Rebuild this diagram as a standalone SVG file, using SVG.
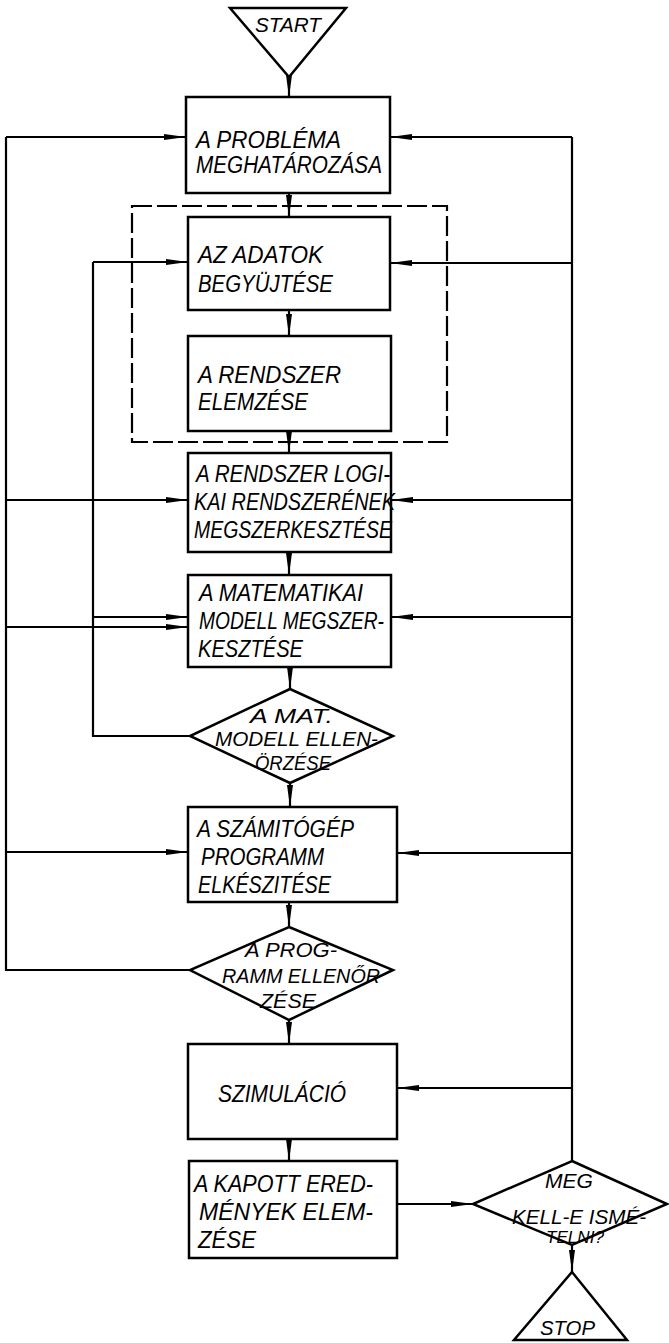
<svg xmlns="http://www.w3.org/2000/svg" width="669" height="1343" viewBox="0 0 669 1343">
<defs>
<marker id="arr" markerUnits="userSpaceOnUse" markerWidth="22" markerHeight="8" refX="22" refY="4" orient="auto">
<path d="M0,1 L22,4 L0,7 Z" fill="#000"/>
</marker>
<style>
.n{fill:#fff;stroke:#000;stroke-width:2.5}
.t{font-family:"Liberation Sans",Arial,sans-serif;font-style:italic;font-size:23px;fill:#000}
.s{font-size:21px}
.m{font-size:20px}
.c{fill:none;stroke:#000;stroke-width:2.2}
.a{fill:none;stroke:#000;stroke-width:2.2;marker-end:url(#arr)}
.d{fill:none;stroke:#000;stroke-width:2.2;stroke-dasharray:20 5}
</style>
</defs>
<rect width="669" height="1343" fill="#fff"/>

<g id="connectors">
<rect class="d" x="132" y="206" width="315" height="236"/>
<path class="a" d="M289,77 V97"/>
<path class="a" d="M289,193 V217"/>
<path class="a" d="M289,310 V336"/>
<path class="a" d="M289,431 V453"/>
<path class="a" d="M289,552 V575"/>
<path class="a" d="M290,667 V689"/>
<path class="a" d="M290,783 V807"/>
<path class="a" d="M289,902 V927"/>
<path class="a" d="M289,1020 V1044"/>
<path class="a" d="M289,1139 V1161"/>
<path class="a" d="M572,1245 V1272"/>
<path class="a" d="M397,1204 H473"/>
<path class="c" d="M190,970 H6 V137"/>
<path class="a" d="M6,137 H186"/>
<path class="a" d="M6,500 H188"/>
<path class="a" d="M6,627 H188"/>
<path class="a" d="M6,852 H188"/>
<path class="c" d="M190,736 H93 V262"/>
<path class="a" d="M93,262 H188"/>
<path class="a" d="M93,617 H188"/>
<path class="c" d="M572,1161 V137"/>
<path class="a" d="M572,137 H390"/>
<path class="a" d="M572,263 H390"/>
<path class="a" d="M572,500 H391"/>
<path class="a" d="M572,617 H391"/>
<path class="a" d="M572,853 H397"/>
<path class="a" d="M572,1088 H397"/>
</g>

<g id="start">
<path class="n" d="M230,8 L346,8 L289,77 Z"/>
<text class="t s" x="255" y="32" textLength="66" lengthAdjust="spacingAndGlyphs">START</text>
</g>

<g id="problema">
<rect class="n" x="186" y="97" width="204" height="96"/>
<text class="t" x="196" y="148" textLength="145" lengthAdjust="spacingAndGlyphs">A PROBLÉMA</text>
<text class="t" x="196" y="173" textLength="186" lengthAdjust="spacingAndGlyphs">MEGHATÁROZÁSA</text>
</g>

<g id="adatok">
<rect class="n" x="188" y="217" width="202" height="93"/>
<text class="t" x="198" y="263" textLength="125" lengthAdjust="spacingAndGlyphs">AZ ADATOK</text>
<text class="t" x="198" y="292" textLength="135" lengthAdjust="spacingAndGlyphs">BEGYÜJTÉSE</text>
</g>

<g id="elemzes">
<rect class="n" x="188" y="336" width="203" height="95"/>
<text class="t" x="198" y="383" textLength="143" lengthAdjust="spacingAndGlyphs">A RENDSZER</text>
<text class="t" x="198" y="410" textLength="110" lengthAdjust="spacingAndGlyphs">ELEMZÉSE</text>
</g>

<g id="logikai">
<rect class="n" x="188" y="453" width="203" height="99"/>
<text class="t" x="196" y="482" textLength="194" lengthAdjust="spacingAndGlyphs">A RENDSZER LOGI-</text>
<text class="t" x="194" y="510" textLength="201" lengthAdjust="spacingAndGlyphs">KAI RENDSZERÉNEK</text>
<text class="t" x="194" y="538" textLength="198" lengthAdjust="spacingAndGlyphs">MEGSZERKESZTÉSE</text>
</g>

<g id="matmodell">
<rect class="n" x="188" y="575" width="203" height="92"/>
<text class="t" x="199" y="601" textLength="164" lengthAdjust="spacingAndGlyphs">A MATEMATIKAI</text>
<text class="t" x="199" y="629" textLength="185" lengthAdjust="spacingAndGlyphs">MODELL MEGSZER-</text>
<text class="t" x="198" y="657" textLength="105" lengthAdjust="spacingAndGlyphs">KESZTÉSE</text>
</g>

<g id="matellenorzes">
<path class="n" d="M290,689 L393,736 L290,783 L190,736 Z"/>
<text class="t s" x="250" y="723" textLength="83" lengthAdjust="spacingAndGlyphs">A MAT.</text>
<text class="t s" x="215" y="746" textLength="163" lengthAdjust="spacingAndGlyphs">MODELL ELLEN-</text>
<text class="t m" x="255" y="770" textLength="76" lengthAdjust="spacingAndGlyphs">ÖRZÉSE</text>
</g>

<g id="program">
<rect class="n" x="188" y="807" width="209" height="95"/>
<text class="t" x="197" y="837" textLength="157" lengthAdjust="spacingAndGlyphs">A SZÁMITÓGÉP</text>
<text class="t" x="201" y="865" textLength="123" lengthAdjust="spacingAndGlyphs">PROGRAMM</text>
<text class="t" x="198" y="893" textLength="133" lengthAdjust="spacingAndGlyphs">ELKÉSZITÉSE</text>
</g>

<g id="progellenorzes">
<path class="n" d="M289,927 L393,970 L289,1020 L190,970 Z"/>
<text class="t s" x="245" y="957" textLength="92" lengthAdjust="spacingAndGlyphs">A PROG-</text>
<text class="t s" x="222" y="983" textLength="158" lengthAdjust="spacingAndGlyphs">RAMM ELLENŐR</text>
<text class="t s" x="260" y="1008" textLength="56" lengthAdjust="spacingAndGlyphs">ZÉSE</text>
</g>

<g id="szimulacio">
<rect class="n" x="188" y="1044" width="209" height="95"/>
<text class="t" x="218" y="1102" textLength="128" lengthAdjust="spacingAndGlyphs">SZIMULÁCIÓ</text>
</g>

<g id="eredmenyek">
<rect class="n" x="189" y="1161" width="208" height="97"/>
<text class="t" x="194" y="1192" textLength="179" lengthAdjust="spacingAndGlyphs">A KAPOTT ERED-</text>
<text class="t" x="199" y="1220" textLength="174" lengthAdjust="spacingAndGlyphs">MÉNYEK ELEM-</text>
<text class="t" x="198" y="1248" textLength="58" lengthAdjust="spacingAndGlyphs">ZÉSE</text>
</g>

<g id="ismetelni">
<path class="n" d="M572,1161 L667,1204 L572,1245 L473,1204 Z"/>
<text class="t s" x="545" y="1188" textLength="48" lengthAdjust="spacingAndGlyphs">MEG</text>
<text class="t s" x="512" y="1224" textLength="134" lengthAdjust="spacingAndGlyphs">KELL-E ISMÉ-</text>
<text class="t" style="font-size:17px" x="546" y="1243" textLength="58" lengthAdjust="spacingAndGlyphs">TELNI?</text>
</g>

<g id="stop">
<path class="n" d="M572,1272 L627,1340 L514,1340 Z"/>
<text class="t s" x="540" y="1335" textLength="55" lengthAdjust="spacingAndGlyphs">STOP</text>
</g>
</svg>
